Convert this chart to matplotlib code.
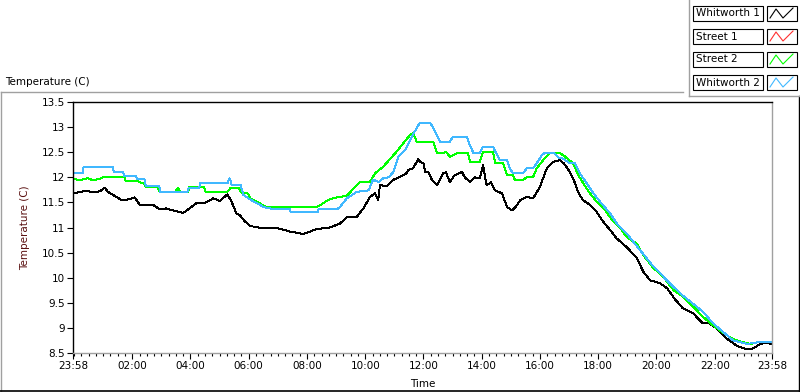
import matplotlib
matplotlib.use("Agg")
import matplotlib.pyplot as plt
from matplotlib.lines import Line2D
from matplotlib.patches import Rectangle

plt.rcParams["font.family"] = ["DejaVu Sans"]
plt.rcParams["font.size"] = 7.5

# hours after 23:58 of the previous day
whitworth1_t = [0, 0.46, 0.69, 0.92, 1.09, 1.2, 1.37, 1.66, 1.84, 2.12, 2.29, 2.52, 2.75, 2.98, 3.2,
                3.43, 3.78, 4.0, 4.23, 4.58, 4.81, 5.04, 5.3, 5.44, 5.61, 5.72, 5.89, 6.08, 6.18, 6.54,
                7.0, 7.45, 7.91, 8.37, 8.82, 9.17, 9.4, 9.74, 9.97, 10.2, 10.37, 10.48, 10.54, 10.77,
                11.0, 11.23, 11.45, 11.51, 11.68, 11.85, 11.92, 12.03, 12.09, 12.2, 12.33, 12.5, 12.6,
                12.7, 12.8, 12.94, 13.1, 13.35, 13.45, 13.63, 13.8, 13.97, 14.08, 14.2, 14.35, 14.49,
                14.73, 14.9, 15.07, 15.2, 15.35, 15.58, 15.8, 16.03, 16.27, 16.5, 16.72, 16.85, 17.06,
                17.24, 17.34, 17.5, 17.75, 17.98, 18.2, 18.44, 18.67, 19.01, 19.36, 19.58, 19.81, 20.15,
                20.4, 20.67, 20.94, 21.29, 21.63, 21.85, 22.1, 22.44, 22.8, 23.14, 23.35, 23.6, 23.8, 24]
whitworth1_v = [11.68, 11.73, 11.70, 11.72, 11.79, 11.71, 11.65, 11.55, 11.55, 11.60, 11.45, 11.44,
                11.45, 11.36, 11.38, 11.34, 11.29, 11.38, 11.48, 11.50, 11.58, 11.53, 11.66, 11.52,
                11.28, 11.25, 11.13, 11.03, 11.02, 10.98, 10.99, 10.92, 10.87, 10.97, 11.0, 11.08,
                11.2, 11.21, 11.38, 11.61, 11.68, 11.55, 11.85, 11.82, 11.95, 12.01, 12.08, 12.15,
                12.18, 12.36, 12.31, 12.28, 12.11, 12.11, 11.94, 11.84, 11.95, 12.08, 12.1, 11.91,
                12.04, 12.11, 12.0, 11.91, 12.0, 11.98, 12.24, 11.84, 11.9, 11.74, 11.68, 11.41,
                11.34, 11.41, 11.54, 11.61, 11.58, 11.81, 12.18, 12.31, 12.34, 12.28, 12.11, 11.88,
                11.71, 11.55, 11.45, 11.31, 11.12, 10.95, 10.78, 10.61, 10.39, 10.12, 9.95, 9.89,
                9.79, 9.57, 9.39, 9.29, 9.09, 9.09, 8.99, 8.79, 8.64, 8.57, 8.59, 8.68, 8.70, 8.68]

street1_t = []
street1_v = []

street2_t = [0, 0.3, 0.5, 0.7, 0.9, 1.09, 1.77, 1.8, 2.2, 2.3, 2.45, 2.5, 2.9, 2.98, 3.5, 3.6, 3.7,
             3.95, 4.0, 4.5, 4.55, 5.3, 5.4, 5.7, 5.8, 6.0, 6.1, 6.31, 6.65, 8.37, 8.5, 8.76, 9.05,
             9.4, 9.85, 10.2, 10.37, 10.65, 10.88, 11.11, 11.34, 11.57, 11.68, 11.8, 12.37, 12.43,
             12.5, 12.7, 12.8, 12.94, 13.2, 13.56, 13.63, 13.97, 14.08, 14.42, 14.5, 14.77, 14.9,
             15.1, 15.17, 15.45, 15.6, 15.8, 15.92, 16.14, 16.38, 16.72, 16.9, 17.17, 17.34, 17.52,
             17.75, 18.03, 18.26, 18.55, 18.84, 19.01, 19.36, 19.58, 19.93, 20.27, 20.62, 20.96,
             21.3, 21.63, 22.04, 22.33, 22.62, 22.97, 23.25, 23.54, 24]
street2_v = [11.96, 11.95, 11.98, 11.94, 11.97, 12.01, 12.01, 11.93, 11.93, 11.9, 11.87, 11.81,
             11.81, 11.71, 11.71, 11.78, 11.71, 11.71, 11.81, 11.81, 11.71, 11.71, 11.78, 11.78,
             11.68, 11.68, 11.58, 11.51, 11.41, 11.41, 11.45, 11.55, 11.6, 11.63, 11.91, 11.91,
             12.08, 12.21, 12.36, 12.51, 12.68, 12.84, 12.88, 12.71, 12.71, 12.61, 12.48, 12.48,
             12.51, 12.41, 12.48, 12.48, 12.31, 12.31, 12.51, 12.51, 12.28, 12.28, 12.05, 12.05,
             11.95, 11.95, 12.01, 12.01, 12.18, 12.34, 12.49, 12.48, 12.41, 12.28, 12.05, 11.88,
             11.68, 11.48, 11.35, 11.12, 10.95, 10.81, 10.68, 10.45, 10.19, 10.02, 9.75, 9.62,
             9.42, 9.22, 9.02, 8.9, 8.79, 8.72, 8.68, 8.72, 8.72]

whitworth2_t = [0, 0.34, 0.36, 1.37, 1.4, 1.72, 1.75, 2.17, 2.2, 2.46, 2.5, 2.96, 3.0, 3.93, 3.97,
                4.33, 4.37, 5.3, 5.38, 5.45, 5.75, 5.85, 6.08, 6.54, 6.9, 7.45, 7.48, 8.4, 8.43, 9.05,
                9.17, 9.4, 9.74, 10.15, 10.3, 10.5, 10.65, 10.85, 11.0, 11.17, 11.4, 11.63, 11.91,
                12.26, 12.35, 12.43, 12.6, 12.94, 13.05, 13.53, 13.6, 13.75, 13.97, 14.07, 14.42,
                14.5, 14.66, 14.9, 15.0, 15.1, 15.45, 15.58, 15.8, 15.92, 16.1, 16.2, 16.5, 16.7,
                16.8, 17.06, 17.23, 17.4, 17.64, 17.87, 18.1, 18.44, 18.67, 19.01, 19.47, 19.93,
                20.39, 20.84, 21.29, 21.63, 21.98, 22.32, 22.66, 23.14, 23.6, 24]
whitworth2_v = [12.09, 12.09, 12.2, 12.2, 12.11, 12.11, 12.03, 12.03, 11.96, 11.96, 11.83, 11.83,
                11.71, 11.71, 11.79, 11.79, 11.88, 11.88, 11.98, 11.85, 11.85, 11.65, 11.56, 11.41,
                11.36, 11.36, 11.30, 11.30, 11.36, 11.36, 11.41, 11.58, 11.71, 11.74, 11.95, 11.91,
                11.98, 12.0, 12.11, 12.41, 12.54, 12.81, 13.09, 13.09, 13.0, 12.92, 12.71, 12.71,
                12.81, 12.81, 12.68, 12.48, 12.48, 12.61, 12.61, 12.51, 12.34, 12.34, 12.18, 12.08,
                12.08, 12.18, 12.18, 12.28, 12.44, 12.49, 12.49, 12.38, 12.38, 12.28, 12.28, 12.08,
                11.88, 11.68, 11.51, 11.28, 11.08, 10.88, 10.55, 10.22, 9.95, 9.69, 9.48, 9.32,
                9.09, 8.92, 8.75, 8.68, 8.72, 8.72]

series_names = ["Whitworth 1", "Street 1", "Street 2", "Whitworth 2"]
series_colors = ["#000000", "#ff3030", "#00ff00", "#40b8ff"]

tick_pos = [0, 2.0333, 4.0333, 6.0333, 8.0333, 10.0333, 12.0333, 14.0333, 16.0333, 18.0333,
            20.0333, 22.0333, 24]
tick_labels = ["23:58", "02:00", "04:00", "06:00", "08:00", "10:00", "12:00", "14:00", "16:00",
               "18:00", "20:00", "22:00", "23:58"]

W, H = 800, 392
fig = plt.figure(figsize=(W / 100, H / 100), dpi=100)


def fx(px):
    return px / W


def fy(py):
    return 1 - py / H


ax = fig.add_axes([fx(73), fy(353), fx(772) - fx(73), fy(102) - fy(353)])
data = [(whitworth1_t, whitworth1_v), (street1_t, street1_v), (street2_t, street2_v),
        (whitworth2_t, whitworth2_v)]
for (t, v), c in zip(data, series_colors):
    ax.plot(t, v, color=c, linewidth=0.7, antialiased=False)

ax.set_xlim(0, 24)
ax.set_ylim(8.5, 13.5)
ax.set_yticks([8.5 + 0.5 * i for i in range(11)])
ax.set_yticklabels(["8.5", "9", "9.5", "10", "10.5", "11", "11.5", "12", "12.5", "13", "13.5"])
ax.set_xticks(tick_pos)
ax.set_xticklabels(tick_labels)
ax.set_xticks([0.0333 + 0.25 * i for i in range(96)], minor=True)
ax.tick_params(axis="both", direction="out", length=4, width=0.8, pad=2, labelsize=7.5)
ax.tick_params(axis="x", which="minor", length=2.5, width=0.8)
ax.spines["left"].set_color("black")
ax.spines["top"].set_color("black")
ax.spines["bottom"].set_color("#a0a0a0")
ax.spines["right"].set_color("#a0a0a0")
for s in ax.spines.values():
    s.set_linewidth(1.0)

ax.set_ylabel("Temperature (C)", color="#5a1010", fontsize=7.5)
ax.yaxis.set_label_coords(-0.062, 0.5)
ax.set_xlabel("Time", fontsize=7.5)
ax.xaxis.set_label_coords(0.5, -0.103)

fig.text(fx(5), fy(82), "Temperature (C)", fontsize=7.5, va="center", ha="left")

# outer panel border
fig.add_artist(Line2D([fx(0.5), fx(683)], [fy(91.5), fy(91.5)], color="#a0a0a0", lw=1))
fig.add_artist(Line2D([fx(0.5), fx(0.5)], [fy(91.5), fy(391)], color="#a0a0a0", lw=1))
fig.add_artist(Line2D([fx(0), fx(800)], [fy(391), fy(391)], color="black", lw=1.2))
fig.add_artist(Line2D([fx(798.5), fx(798.5)], [fy(96), fy(391)], color="black", lw=1))

# legend frame
fig.add_artist(Line2D([fx(689), fx(689)], [fy(0), fy(96)], color="#a0a0a0", lw=1))
fig.add_artist(Line2D([fx(689), fx(800)], [fy(96), fy(96)], color="#a0a0a0", lw=1))

for i, (name, c) in enumerate(zip(series_names, series_colors)):
    top = 6 + 23 * i
    fig.add_artist(Rectangle((fx(693), fy(top + 15)), fx(70), fy(0) - fy(15),
                             transform=fig.transFigure, fill=False, ec="black", lw=0.8))
    fig.text(fx(696), fy(top + 7.5), name, fontsize=7.5, va="center", ha="left")
    fig.add_artist(Rectangle((fx(767), fy(top + 15)), fx(30), fy(0) - fy(15),
                             transform=fig.transFigure, fill=False, ec="black", lw=0.8))
    xs = [770, 776, 783, 793]
    ys = [top + 12, top + 3, top + 12, top + 2]
    fig.add_artist(Line2D([fx(x) for x in xs], [fy(y) for y in ys], color=c, lw=0.8))

fig.savefig("out.png", dpi=100)
